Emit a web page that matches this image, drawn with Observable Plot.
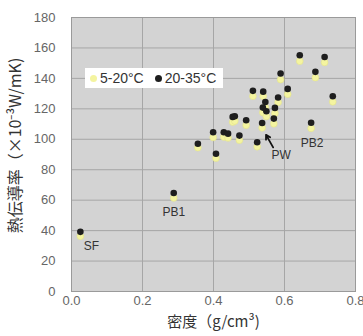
<!DOCTYPE html>
<html><head><meta charset="utf-8">
<script src="https://cdn.jsdelivr.net/npm/d3@7"></script>
<script src="https://cdn.jsdelivr.net/npm/@observablehq/plot@0.6"></script>
<style>
body{margin:0;background:#fff;}
#c{position:relative;width:363px;height:336px;font-family:"Liberation Sans",Arial,"Noto Sans CJK JP",sans-serif;}
.leg{position:absolute;left:85px;top:68px;width:138px;height:20px;background:#fff;display:flex;align-items:center;font-size:14px;color:#333;}
.leg .d{display:inline-block;width:7px;height:7px;border-radius:50%;margin:0 3px 0 5px;}
</style></head>
<body><div id="c"></div>
<script>
const names = ["SF","PB1","","","","","","","","","","","PW","","","","","","","","","","","","PB2","","",""];
const density = [0.025,0.288,0.356,0.399,0.407,0.429,0.441,0.454,0.460,0.473,0.492,0.511,0.523,0.540,0.546,0.539,0.549,0.537,0.573,0.570,0.582,0.589,0.609,0.643,0.675,0.687,0.713,0.736];
const hot = [39.2,64.7,97.1,104.6,90.5,104.6,103.7,114.7,115.1,102.4,112.5,131.8,98.0,131.3,124.5,120.8,118.4,110.7,120.6,113.6,127.4,143.2,133.1,155.2,110.9,144.3,154.1,128.3];
const cold = [36.3,61.5,94.5,101.2,87.6,101.5,100.9,111.3,112.0,99.4,109.2,128.3,95.1,128.2,121.0,117.6,115.0,107.5,117.1,110.2,124.3,139.2,129.6,151.3,107.2,140.5,150.5,124.6];
const xTicks = [0,0.2,0.4,0.6,0.8];
const yTicks = [0,20,40,60,80,100,120,140,160,180];
const seriesNames = ["5-20°C","20-35°C"];
const xTitle = "密度（g/cm³)";
const yTitle = "熱伝導率（×10⁻³W/mK)";

const data = density.map((x,i)=>({name:names[i], x, hot:hot[i], cold:cold[i]}));
const lab = n => data.filter(d=>d.name===n);
const cjk = "'Noto Sans CJK JP','Liberation Sans',sans-serif";

const chart = Plot.plot({
  width:363, height:336, marginLeft:71, marginRight:8, marginTop:17, marginBottom:45,
  style:{fontFamily:"'Liberation Sans',Arial,sans-serif", background:"transparent", overflow:"visible"},
  x:{domain:[0,0.8]},
  y:{domain:[0,180]},
  marks:[
    Plot.frame({fill:"#d3d3d3"}),
    Plot.gridX(xTicks,{stroke:"#a6a6a6", strokeOpacity:1}),
    Plot.gridY(yTicks,{stroke:"#a6a6a6", strokeOpacity:1}),
    Plot.frame({stroke:"#9a9a9a"}),
    Plot.axisX(xTicks,{tickSize:0, tickPadding:4, fontSize:13, fill:"#666", label:null, tickFormat:d=>d.toFixed(1)}),
    Plot.axisY(yTicks,{tickSize:0, tickPadding:16, fontSize:13, fill:"#666", label:null}),
    Plot.dot(data,{x:"x", y:"cold", r:3.4, fill:"#f4f4a0", stroke:"#e2e28a", strokeWidth:0.6}),
    Plot.dot(data,{x:"x", y:"hot", r:3.3, fill:"#1e1e1e"}),
    Plot.text(lab("SF"),{x:"x", y:"cold", text:"name", dx:11, dy:10, fontSize:12, fill:"#333"}),
    Plot.text(lab("PB1"),{x:"x", y:"cold", text:"name", dx:0, dy:14, fontSize:12, fill:"#333"}),
    Plot.text(lab("PB2"),{x:"x", y:"cold", text:"name", dx:1, dy:15, fontSize:12, fill:"#333"}),
    Plot.text(lab("PW"),{x:"x", y:"hot", text:"name", dx:24, dy:13, fontSize:12, fill:"#333"}),
    Plot.arrow(lab("PW"),{x1:d=>d.x+0.045, y1:d=>d.hot-3.3, x2:d=>d.x+0.025, y2:d=>d.hot+4.9, stroke:"#111", strokeWidth:1.8, headLength:7}),
    Plot.text([xTitle],{frameAnchor:"bottom", lineAnchor:"middle", textAnchor:"middle", dy:31, fontSize:15, fill:"#333", fontFamily:cjk}),
    Plot.text([yTitle],{frameAnchor:"left", textAnchor:"middle", lineAnchor:"middle", dx:-56, dy:-9, rotate:-90, fontSize:16, fill:"#333", fontFamily:cjk})
  ]
});
const c = document.getElementById("c");
c.appendChild(chart);
const leg = document.createElement("div");
leg.className = "leg";
leg.innerHTML = `<span class="d" style="background:#f4f4a0"></span><span>${seriesNames[0]}</span><span class="d" style="background:#1e1e1e;margin-left:11px"></span><span>${seriesNames[1]}</span>`;
c.appendChild(leg);
</script>
</body></html>
